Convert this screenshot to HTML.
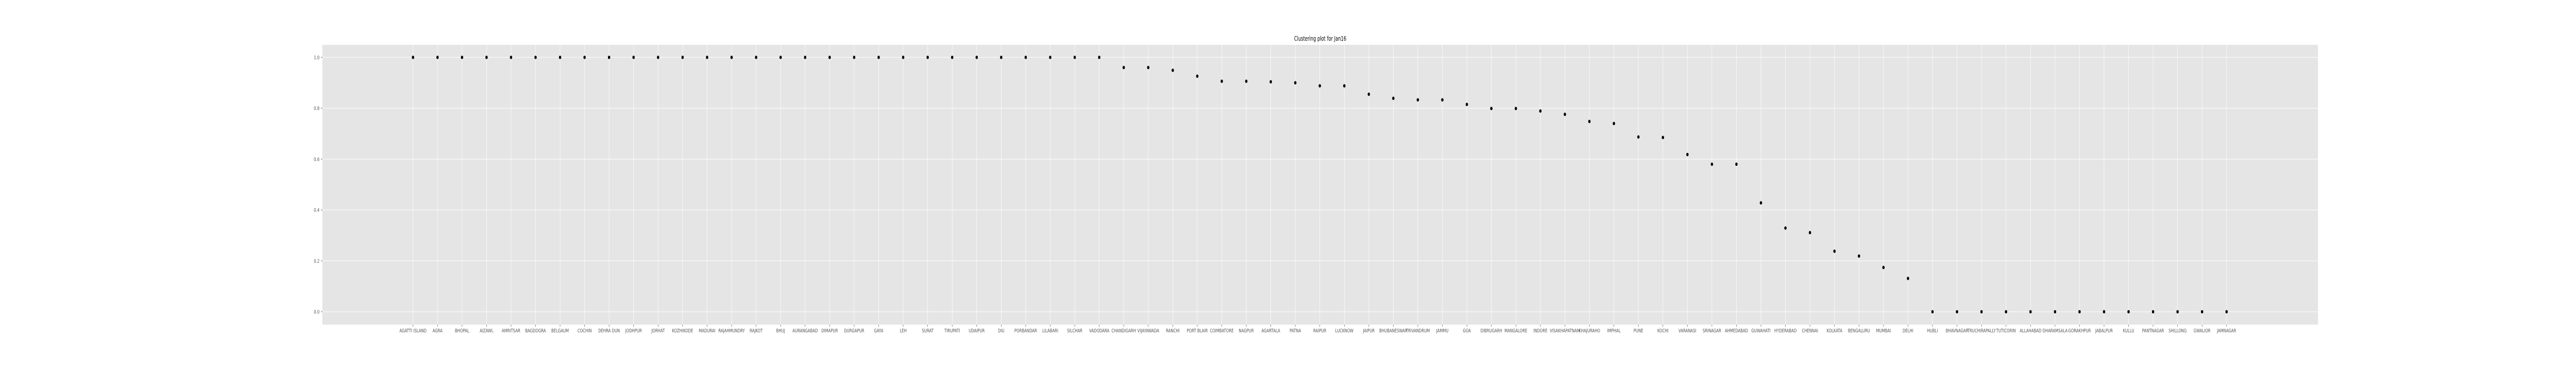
<!DOCTYPE html>
<html><head><meta charset="utf-8"><title>Clustering plot for Jan16</title>
<style>html,body{margin:0;padding:0;background:#fff;width:100vw;height:100vh;overflow:hidden;}svg{display:block;width:100vw;height:100vh;font-family:"DejaVu Sans","Liberation Sans",sans-serif;}</style>
</head><body>
<svg id="chart" viewBox="0 0 7200 720" preserveAspectRatio="none" xmlns="http://www.w3.org/2000/svg">
<rect x="901" y="87" width="5578" height="543" fill="#e5e5e5"/>
<g id="grid"></g>
<g id="yaxis"></g>
<g id="xaxis"></g>
<g id="points"></g>
<text x="3690" y="79" text-anchor="middle" font-size="12" fill="#000">Clustering plot for Jan16</text>
</svg>
<script>
const categories = ["AGATTI ISLAND","AGRA","BHOPAL","AIZAWL","AMRITSAR","BAGDOGRA","BELGAUM","COCHIN","DEHRA DUN","JODHPUR","JORHAT","KOZHIKODE","MADURAI","RAJAHMUNDRY","RAJKOT",
"BHUJ","AURANGABAD","DIMAPUR","DURGAPUR","GAYA","LEH","SURAT","TIRUPATI","UDAIPUR","DIU","PORBANDAR","LILABARI","SILCHAR","VADODARA","CHANDIGARH","VIJAYAWADA",
"RANCHI","PORT BLAIR","COIMBATORE","NAGPUR","AGARTALA","PATNA","RAIPUR","LUCKNOW","JAIPUR","BHUBANESWAR","TRIVANDRUM","JAMMU","GOA","DIBRUGARH","MANGALORE","INDORE",
"VISAKHAPATNAM","KHAJURAHO","IMPHAL","PUNE","KOCHI","VARANASI","SRINAGAR","AHMEDABAD","GUWAHATI","HYDERABAD","CHENNAI","KOLKATA","BENGALURU","MUMBAI","DELHI","HUBLI",
"BHAVNAGAR","TRUCHIRAPALLY","TUTICORIN","ALLAHABAD","DHARAMSALA","GORAKHPUR","JABALPUR","KULLU","PANTNAGAR","SHILLONG","GWALIOR","JAMNAGAR"];
const values = [1,1,1,1,1,1,1,1,1,1,1,1,1,1,1,
1,1,1,1,1,1,1,1,1,1,1,1,1,1,0.96,0.96,
0.949,0.926,0.906,0.906,0.904,0.900,0.888,0.888,0.855,0.839,0.833,0.833,0.815,0.799,0.799,0.789,
0.776,0.748,0.740,0.687,0.685,0.618,0.580,0.580,0.428,0.329,0.311,0.238,0.219,0.174,0.131,0,
0,0,0,0,0,0,0,0,0,0,0,0];
const yTicks = [0,0.2,0.4,0.6,0.8,1.0];
const yTickLabels = ["0.0","0.2","0.4","0.6","0.8","1.0"];

const NS="http://www.w3.org/2000/svg";
const plotL=901, plotR=6479, plotT=87, plotB=630;
const x0=1154.4, xStep=68.5;
function xScale(i){return x0+i*xStep;}
function yScale(v){return 605-v*493.7;}
function mk(tag,attrs,parent){const e=document.createElementNS(NS,tag);for(const k in attrs)e.setAttribute(k,attrs[k]);parent.appendChild(e);return e;}
const grid=document.getElementById('grid'),yaxis=document.getElementById('yaxis'),xaxis=document.getElementById('xaxis'),pts=document.getElementById('points');
yTicks.forEach((t,i)=>{
  const y=yScale(t);
  const g=mk('line',{x1:plotL,x2:plotR,y1:y,y2:y,stroke:'#fff','stroke-width':1},grid);
  
  
  const tk=mk('line',{x1:plotL-4,x2:plotL,y1:y,y2:y,stroke:'#555','stroke-width':1},yaxis);
  
  
  const lb=mk('text',{x:plotL-8,y:y+3.5,'text-anchor':'end','font-size':10,fill:'#555'},yaxis);
  lb.textContent=yTickLabels[i];
  
  
});
categories.forEach((c,i)=>{
  const x=xScale(i);
  const g=mk('line',{x1:x,x2:x,y1:plotT,y2:plotB,stroke:'#fff','stroke-width':1},grid);
  
  
  const tk=mk('line',{x1:x,x2:x,y1:plotB,y2:plotB+4,stroke:'#555','stroke-width':1},xaxis);
  
  
  const lb=mk('text',{x:x,y:plotB+15,'text-anchor':'middle','font-size':10,fill:'#555'},xaxis);
  lb.textContent=c;
  
  
  const p=mk('circle',{cx:x,cy:yScale(values[i]),r:3.3,fill:'#000'},pts);
  
  
});
</script>
</body></html>
